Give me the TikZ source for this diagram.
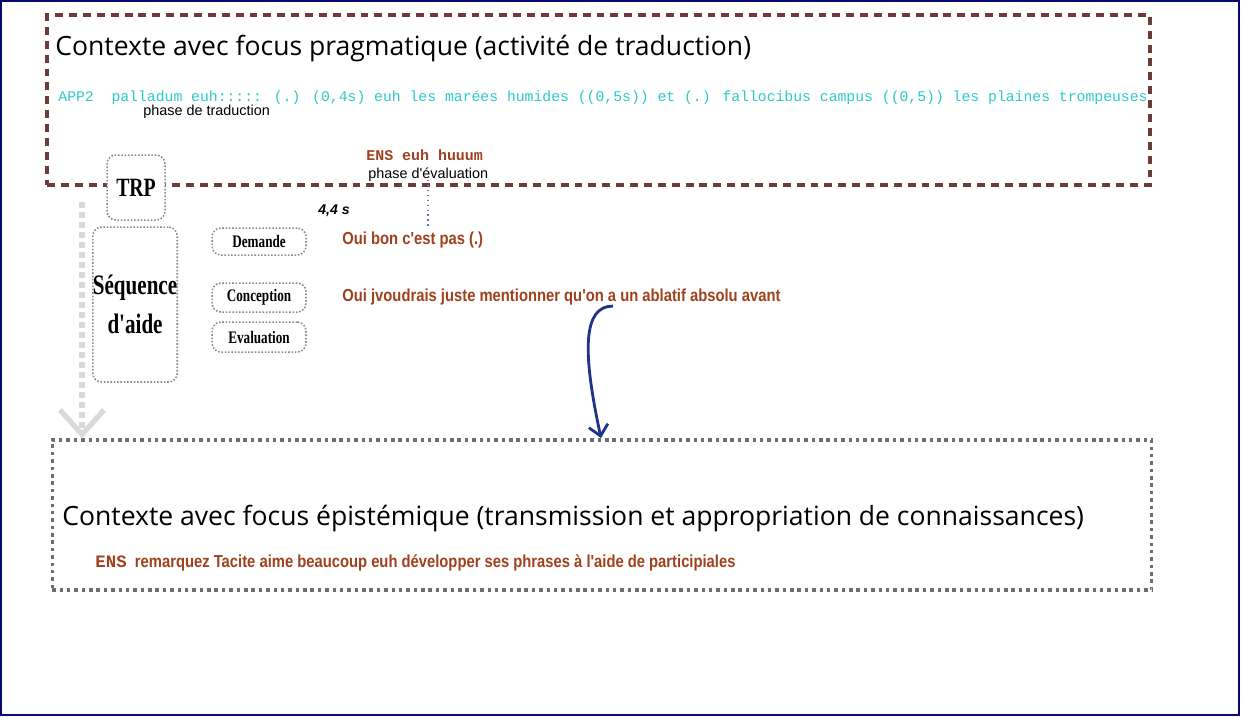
\documentclass[tikz,border=0pt]{standalone}
\usepackage{fontspec}
\usepackage{tikz}
\usetikzlibrary{arrows.meta, positioning, calc}
\usepackage{xcolor}
\definecolor{framenavy}{HTML}{0A0A6E}
\definecolor{pragbrown}{HTML}{6E3B3B}
\definecolor{talkcyan}{HTML}{2EC8C8}
\definecolor{talkbrown}{HTML}{A0411E}
\definecolor{boxgray}{HTML}{8A8A8A}
\definecolor{epigray}{HTML}{6E6E6E}
\definecolor{arrnavy}{HTML}{1E3487}
\definecolor{dotblue}{HTML}{6A72B0}
\newfontfamily\titlefont{Open Sans}
\newfontfamily\talkmono{Liberation Mono}
\newfontfamily\talknarrow[FakeStretch=0.85]{Liberation Sans}
\newfontfamily\notefont{Liberation Sans}
\newfontfamily\boxfont[FakeStretch=0.75]{Liberation Serif}

\begin{document}
\begin{tikzpicture}[x=0.02cm, y=-0.02cm,
    pragbox/.style={draw=pragbrown, line width=2.3pt, dash pattern=on 4.5pt off 3.4pt},
    epibox/.style={draw=epigray, line width=1.8pt, dash pattern=on 2pt off 2.2pt},
    seqbox/.style={draw=boxgray, line width=0.9pt, densely dotted, rounded corners=5pt,
                   fill=white, inner sep=0pt, font=\boxfont\bfseries},
    phasebox/.style={seqbox, minimum width=1.88cm, font=\boxfont\bfseries\fontsize{10}{12}\selectfont},
    title/.style={anchor=west, inner sep=0pt, font=\titlefont\fontsize{15.1}{17}\selectfont},
    talk/.style={anchor=west, inner sep=0pt, text=talkbrown, font=\talknarrow\bfseries\fontsize{9.9}{12}\selectfont},
    note/.style={anchor=west, inner sep=0pt, font=\notefont\fontsize{8.2}{10}\selectfont},
    grayarr/.style={draw=gray!30, line width=3.4pt, dash pattern=on 3.4pt off 2.3pt,
                    -{Straight Barb[length=14pt, width=25pt, line width=3pt]}},
    curvarr/.style={draw=arrnavy, line width=1.6pt, -{Straight Barb[length=6pt, width=11pt]}}
  ]
    % frame
    \draw[framenavy, line width=1.2pt] (1,1) rectangle (1239,715);
    \useasboundingbox (0,0) rectangle (1241,717);

    % the two contexts
    \node[pragbox, minimum width=22.06cm, minimum height=3.4cm] (prag) at (598.5,100) {};
    \node[epibox, minimum width=22cm, minimum height=3cm] (epi) at (602,515) {};

    \node[title] (pragtitle) at (55,48) {Contexte avec focus pragmatique (activité de traduction)};
    \node[anchor=west, inner sep=0pt, text=talkcyan, font=\talkmono\fontsize{8.4}{10}\selectfont]
      (app) at (58,98) {APP2\ \ palladum euh::::: (.) (0,4s) euh les marées humides ((0,5s)) et (.) fallocibus campus ((0,5)) les plaines trompeuses};
    \node[note] (ptrad) at (143,112) {phase de traduction};
    \node[anchor=west, inner sep=0pt, text=talkbrown, font=\talkmono\bfseries\fontsize{8.5}{10}\selectfont]
      (ens) at (366,155) {ENS euh huuum};
    \node[note] (peval) at (368,175) {phase d'évaluation};

    % help sequence
    \node[seqbox, minimum width=1.16cm, minimum height=1.3cm, font=\boxfont\bfseries\fontsize{15}{17}\selectfont]
      (trp) at (136,187.5) {TRP};
    \node[seqbox, minimum width=1.68cm, minimum height=3.1cm, align=center,
          font=\boxfont\bfseries\fontsize{16}{22}\selectfont]
      (seq) at (135,304.5) {Séquence\\d'aide};
    \node[phasebox, minimum height=0.54cm] (dem) at (259,241.5) {Demande};
    \node[phasebox, minimum height=0.58cm] (conc) at (259,297.5) {Conception};
    \node[phasebox, minimum height=0.6cm] (eval) at (259,337) {Evaluation};

    \node[note, font=\notefont\bfseries\itshape\fontsize{8}{10}\selectfont] (pause) at (318,211) {4,4 s};
    \node[talk] (oui1) at (342,240) {Oui bon c'est pas (.)};
    \node[talk] (oui2) at (342,297) {Oui jvoudrais juste mentionner qu'on a un ablatif absolu avant};

    \node[title] (epititle) at (62,518) {Contexte avec focus épistémique (transmission et appropriation de connaissances)};
    \node[talk] (ens2) at (95,563) {{\talkmono ENS}\ \ remarquez Tacite aime beaucoup euh développer ses phrases à l'aide de participiales};

    % connectors
    \coordinate (evaltop) at (428,180);
    \coordinate (evalbot) at (428,228);
    \draw[dotblue, line width=0.8pt, dotted] (evaltop) -- (evalbot);

    \coordinate (shiftstart) at (82,202);
    \draw[grayarr] (shiftstart) -- (shiftstart |- epi.north);

    \coordinate (ablstart) at (613,306);
    \coordinate (ablend) at (601,438);
    \draw[curvarr] (ablstart) .. controls (583,306) and (582,350) .. (ablend);
\end{tikzpicture}
\end{document}
